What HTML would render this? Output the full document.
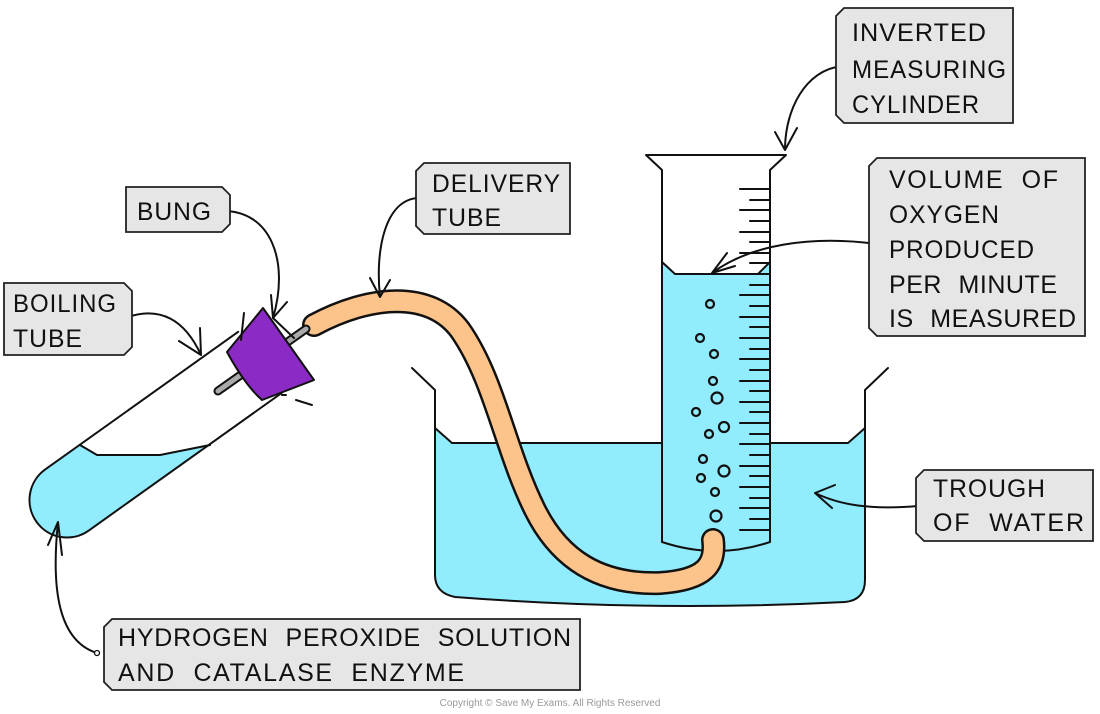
<!DOCTYPE html>
<html><head><meta charset="utf-8"><style>
html,body{margin:0;padding:0;background:#fff;}
svg{display:block;}
text{font-family:"Liberation Sans",sans-serif;font-size:25px;fill:#111;letter-spacing:1px;word-spacing:9px;}
</style></head><body>
<svg width="1100" height="714" viewBox="0 0 1100 714" xmlns="http://www.w3.org/2000/svg">
<defs>
<clipPath id="tubeclip"><path transform="translate(67,500) rotate(-35.5)" d="M237,-37.5 L0,-37.5 A37.5,37.5 0 0 0 0,37.5 L237,37.5 Z"/></clipPath>
</defs>
<g fill="none" stroke="#111" stroke-width="2" stroke-linejoin="round" stroke-linecap="round">
<!-- trough water -->
<path d="M435,428 L452,443 L848,443 L865,428 L865,580 Q865,600 845,602 Q650,612 455,597 Q435,593 435,575 Z" fill="#91ecfd" stroke="none"/>
<path d="M412,368 L435,390 L435,575 Q435,593 455,597 Q650,612 845,602 Q865,600 865,580 L865,390 L888,368"/>
<path d="M435,428 L452,443 L848,443 L865,428"/>
<!-- cylinder -->
<path d="M662,262 L675,274 L758,274 L770,262 L770,542 Q716,560 662,542 Z" fill="#91ecfd" stroke="none"/>
<path d="M646,155 L786,155 L770,170 L770,542 Q716,560 662,542 L662,170 Z" fill="none"/>
<path d="M662,262 L675,274 L758,274 L770,262"/>
<g stroke-width="2">
<path d="M740,189H770M750,200H770M740,210H770M750,221H770M740,232H770M750,242H770M740,253H770M750,263H770M740,274H770M750,285H770M740,295H770M750,306H770M740,317H770M750,327H770M740,338H770M750,349H770M740,359H770M750,370H770M740,381H770M750,391H770M740,402H770M750,412H770M740,423H770M750,434H770M740,444H770M750,455H770M740,466H770M750,476H770M740,487H770M750,498H770M740,508H770M750,519H770M740,530H770"/>
</g>
<g stroke-width="2.2">
<circle cx="710" cy="304" r="4"/><circle cx="700" cy="338" r="4"/><circle cx="714" cy="354" r="4"/>
<circle cx="713" cy="381" r="4"/><circle cx="717" cy="398" r="5.5"/><circle cx="696" cy="412" r="4"/>
<circle cx="724" cy="427" r="5"/><circle cx="709" cy="434" r="4"/><circle cx="703" cy="459" r="4"/>
<circle cx="724" cy="471" r="5.5"/><circle cx="701" cy="478" r="4"/><circle cx="715" cy="492" r="4"/>
<circle cx="716" cy="516" r="5.5"/>
</g>
<!-- delivery tube -->
<path d="M314,325 C370,295 430,290 460,330 C495,380 505,450 535,510 C560,560 600,585 660,583 C705,580 716,565 713,540" stroke="#111" stroke-width="24" stroke-linecap="round"/>
<path d="M314,325 C370,295 430,290 460,330 C495,380 505,450 535,510 C560,560 600,585 660,583 C705,580 716,565 713,540" stroke="#fcc38a" stroke-width="19" stroke-linecap="round"/>
<!-- boiling tube -->
<g clip-path="url(#tubeclip)"><path d="M0,445 L80,445 L97,455 L160,455 L185,450 L210,445 L300,445 L300,600 L0,600 Z" fill="#91ecfd" stroke="none"/></g>
<path d="M80,445 L97,455 L160,455 L185,450 L210,445"/>
<path transform="translate(67,500) rotate(-35.5)" d="M237,-37.5 L0,-37.5 A37.5,37.5 0 0 0 0,37.5 L237,37.5"/>
<!-- rod -->
<line x1="218" y1="391" x2="306" y2="329" stroke="#111" stroke-width="9"/>
<line x1="218" y1="391" x2="306" y2="329" stroke="#aaa" stroke-width="5"/>
<!-- bung -->
<path d="M263,308 L314,380 L262,400 Q245,385 227,352 Z" fill="#8b2ac5"/>
<path d="M244,313 L241,340 M294,338 L273,318 M296,400 L312,405 M286,395 L282,395"/>
<!-- arrows -->
<path d="M222,211 C270,210 290,260 273,318 M271,295 L273,318 M287,302 L273,318"/>
<path d="M125,318 C160,305 185,320 201,355 M179,341 L201,355 M200,328 L201,355"/>
<path d="M418,198 C385,200 375,250 380,297 M370,278 L380,297 M390,280 L380,297"/>
<path d="M842,66 C805,70 785,110 785,150 M775,132 L785,150 M797,128 L785,150"/>
<path d="M877,244 C810,235 750,245 712,273 M727,253 L712,273 M735,266 L712,273"/>
<path d="M918,506 C870,510 840,505 815,493 M835,485 L815,493 M832,508 L815,493"/>
<path d="M97,653 C55,640 52,580 58,522 M48,545 L58,522 M62,555 L58,522"/>
</g>
<g fill="none" stroke="#111" stroke-width="1.3">
<circle cx="222" cy="211" r="2.5" fill="#fff"/><circle cx="125" cy="318" r="2.5" fill="#fff"/>
<circle cx="418" cy="198" r="2.5" fill="#fff"/><circle cx="842" cy="66" r="2.5" fill="#fff"/>
<circle cx="877" cy="244" r="2.5" fill="#fff"/><circle cx="918" cy="506" r="2.5" fill="#fff"/>
<circle cx="97" cy="653" r="2.5" fill="#fff"/>
</g>
<!-- labels -->
<g fill="#e6e6e6" stroke="#222" stroke-width="1.8">
<path d="M844,8 L1013,8 L1013,123 L844,123 L836,115 L836,16 Z"/>
<path d="M877,158 L1085,158 L1085,336 L877,336 L869,328 L869,166 Z"/>
<path d="M924,470 L1093,470 L1093,541 L924,541 L916,533 L916,478 Z"/>
<path d="M112,619 L580,619 L580,690 L112,690 L104,682 L104,627 Z"/>
<path d="M424,163 L570,163 L570,234 L424,234 L416,226 L416,171 Z"/>
<path d="M126,187 L222,187 L230,195 L230,224 L222,232 L126,232 Z"/>
<path d="M4,283 L124,283 L132,291 L132,347 L124,355 L4,355 Z"/>
</g>
<text x="852" y="41" textLength="135" lengthAdjust="spacingAndGlyphs">INVERTED</text>
<text x="852" y="78" textLength="155" lengthAdjust="spacingAndGlyphs">MEASURING</text>
<text x="852" y="113" textLength="128" lengthAdjust="spacingAndGlyphs">CYLINDER</text>
<text x="889" y="188" textLength="170" lengthAdjust="spacing">VOLUME OF</text>
<text x="889" y="223" textLength="111" lengthAdjust="spacingAndGlyphs">OXYGEN</text>
<text x="889" y="258" textLength="146" lengthAdjust="spacingAndGlyphs">PRODUCED</text>
<text x="889" y="293" textLength="169" lengthAdjust="spacing">PER MINUTE</text>
<text x="889" y="327" textLength="188" lengthAdjust="spacing">IS MEASURED</text>
<text x="933" y="497" textLength="113" lengthAdjust="spacingAndGlyphs">TROUGH</text>
<text x="933" y="531" textLength="152" lengthAdjust="spacing">OF WATER</text>
<text x="118" y="646" textLength="454" lengthAdjust="spacing">HYDROGEN PEROXIDE SOLUTION</text>
<text x="118" y="681" textLength="347" lengthAdjust="spacing">AND CATALASE ENZYME</text>
<text x="432" y="192" textLength="129" lengthAdjust="spacingAndGlyphs">DELIVERY</text>
<text x="432" y="226" textLength="70" lengthAdjust="spacingAndGlyphs">TUBE</text>
<text x="137" y="220" textLength="75" lengthAdjust="spacingAndGlyphs">BUNG</text>
<text x="13" y="312" textLength="104" lengthAdjust="spacingAndGlyphs">BOILING</text>
<text x="13" y="347" textLength="70" lengthAdjust="spacingAndGlyphs">TUBE</text>
<text x="550" y="706" text-anchor="middle" style="font-size:10px;fill:#999;letter-spacing:0;word-spacing:0">Copyright © Save My Exams. All Rights Reserved</text>
</svg>
</body></html>
